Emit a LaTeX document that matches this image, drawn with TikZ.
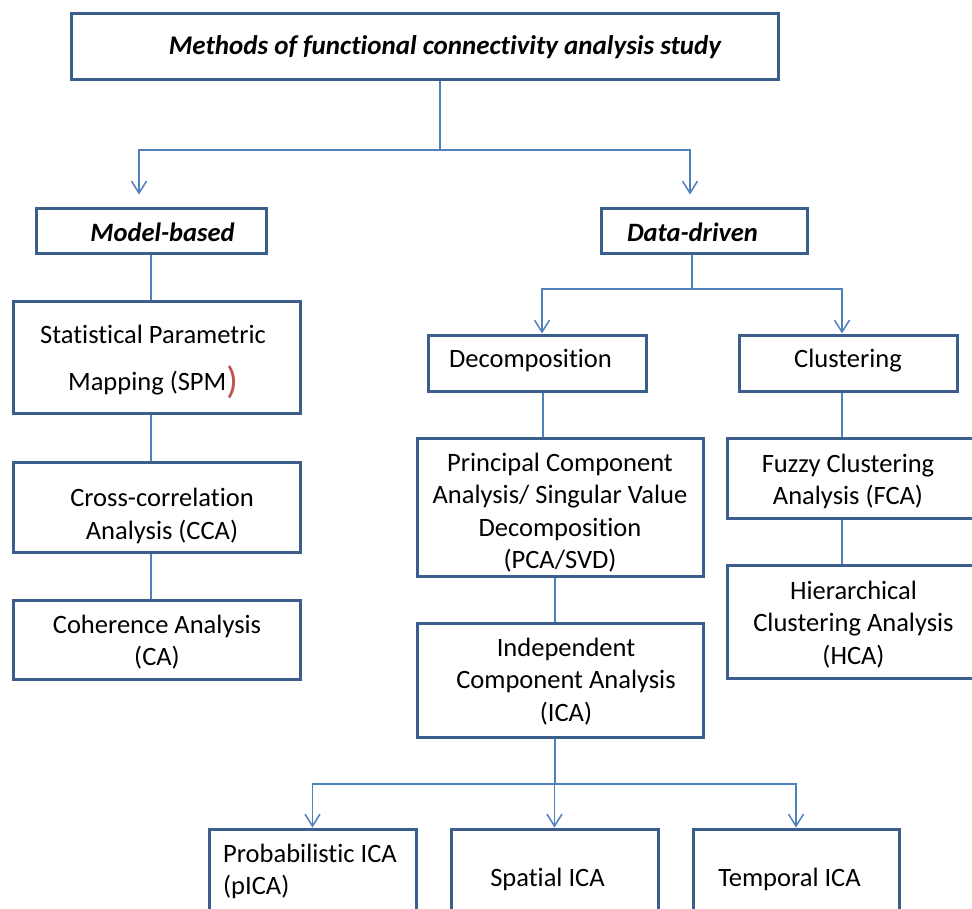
\documentclass[tikz,border=0pt]{standalone}
\usepackage{fontspec}
\setmainfont[Ligatures=NoCommon]{Carlito}
\usetikzlibrary{arrows.meta}
\definecolor{boxline}{HTML}{3B5E8C}
\definecolor{linkline}{HTML}{4F81BD}
\definecolor{parenred}{HTML}{C0504D}
\tikzset{
  box/.style={draw=boxline, line width=3pt, rectangle, inner sep=0pt, fill=white},
  txt/.style={inner sep=0pt, align=center, yshift=-2.5pt, font=\fontsize{26.5}{32.5}\selectfont},
  head/.style={inner sep=0pt, yshift=-1.5pt, font=\fontsize{26.5}{32}\selectfont\bfseries\itshape},
  link/.style={draw=linkline, line width=1.5pt},
  arr/.style={-{Straight Barb[length=12pt,width=15pt]}},
}
\begin{document}
\begin{tikzpicture}[x=1pt,y=-1pt]
\useasboundingbox (0,0) rectangle (972,908);
\clip (0,0) rectangle (972,908);
\fill[white] (0,0) rectangle (972,908);

% ---- boxes ----
\node[box, minimum width=707pt, minimum height=66pt] (top) at (424.5,46) {};
\node[box, minimum width=230pt, minimum height=45pt] (model) at (151,230.5) {};
\node[box, minimum width=206pt, minimum height=45pt] (data) at (704,230.5) {};

\node[box, minimum width=287pt, minimum height=112pt] (spm) at (156.5,357) {};
\node[box, minimum width=287pt, minimum height=90pt] (cca) at (156.5,507) {};
\node[box, minimum width=287pt, minimum height=79pt] (ca) at (156.5,639.5) {};

\node[box, minimum width=218pt, minimum height=56pt] (decomp) at (537,363) {};
\node[box, minimum width=218pt, minimum height=56pt] (clust) at (848,363) {};
\node[box, minimum width=286pt, minimum height=138pt] (pca) at (560,507) {};
\node[box, minimum width=286pt, minimum height=114pt] (ica) at (560,680) {};
\node[box, minimum width=248pt, minimum height=80pt] (fca) at (851,478) {};
\node[box, minimum width=248pt, minimum height=113pt] (hca) at (851,621.5) {};

\node[box, minimum width=207pt, minimum height=100pt] (pica) at (312.5,879) {};
\node[box, minimum width=207pt, minimum height=100pt] (spatial) at (554.5,879) {};
\node[box, minimum width=206pt, minimum height=100pt] (temporal) at (796,879) {};

% ---- texts ----
\node[head, font=\fontsize{27}{32}\selectfont\bfseries\itshape] (topT) at (445,46) {Methods of functional connectivity analysis study};
\node[head] (modelT) at (162.5,231) {Model-based};
\node[head] (dataT) at (692.5,231) {Data-driven};

\node[txt] (spmT) at (153,359.5) {Statistical Parametric\\[14.5pt]Mapping (SPM\raisebox{-3pt}{\fontsize{38}{38}\selectfont\color{parenred})}};
\node[txt] (ccaT) at (162,513.5) {Cross-correlation\\Analysis (CCA)};
\node[txt] (caT) at (157,639.5) {Coherence Analysis\\(CA)};

\node[txt] (decompT) at (530.5,358) {Decomposition};
\node[txt] (clustT) at (848,358) {Clustering};
\node[txt] (pcaT) at (560,510) {Principal Component\\Analysis/ Singular Value\\Decomposition\\(PCA/SVD)};
\node[txt] (icaT) at (566,679) {Independent\\Component Analysis\\(ICA)};
\node[txt] (fcaT) at (848,479) {Fuzzy Clustering\\Analysis (FCA)};
\node[txt] (hcaT) at (853.5,622) {Hierarchical\\Clustering Analysis\\(HCA)};

\node[txt, anchor=west, align=left] (picaT) at (223,869) {Probabilistic ICA\\(pICA)};
\node[txt] (spatialT) at (547.5,877) {Spatial ICA};
\node[txt] (temporalT) at (789.5,877) {Temporal ICA};

% ---- connectors ----
\coordinate (busA) at (440,150);
\draw[link] (top.south -| busA) -- (busA);
\draw[link, arr, shorten >=12pt] (busA) -| ([xshift=-12pt]model.north);
\draw[link, arr, shorten >=12pt] (busA) -| ([xshift=-14pt]data.north);

\draw[link] (model.south) -- (spm.north -| model.south);
\draw[link] (spm.south -| model.south) -- (cca.north -| model.south);
\draw[link] (cca.south -| model.south) -- (ca.north -| model.south);

\coordinate (busB) at (692,289);
\draw[link] (data.south -| busB) -- (busB);
\draw[link, arr] (busB) -| ([xshift=5pt]decomp.north);
\draw[link, arr] (busB) -| ([xshift=-6pt]clust.north);

\coordinate (colD) at (543,0);
\coordinate (colE) at (842,0);
\coordinate (colF) at (555,0);
\draw[link] (decomp.south -| colD) -- (pca.north -| colD);
\draw[link] (clust.south -| colE) -- (fca.north -| colE);
\draw[link] (fca.south -| colE) -- (hca.north -| colE);
\draw[link] (pca.south -| colF) -- (ica.north -| colF);

\coordinate (busC) at (555,784);
\draw[link] (ica.south -| busC) -- (busC);
\draw[link, arr] (busC) -| (pica.north);
\draw[link, arr] (busC) -| (spatial.north);
\draw[link, arr] (busC) -| (temporal.north);
\end{tikzpicture}
\end{document}
